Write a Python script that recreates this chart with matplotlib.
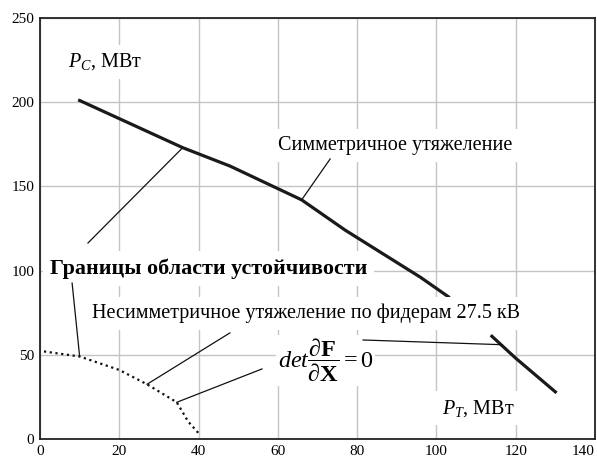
import numpy as np
import matplotlib.pyplot as plt

plt.rcParams['font.family'] = ['Liberation Serif', 'DejaVu Serif']
plt.rcParams['mathtext.fontset'] = 'custom'
plt.rcParams['mathtext.rm'] = 'Liberation Serif'
plt.rcParams['mathtext.it'] = 'Liberation Serif:italic'
plt.rcParams['mathtext.bf'] = 'Liberation Serif:bold'

# symmetric loading boundary (P_T, P_C), NaN marks the hidden part under the label
sym_pt = [10, 36, 48, 66, 77, 96, 103, np.nan, 114, 120, 130]
sym_pc = [201, 173, 162, 142, 124, 96, 84.5, np.nan, 61, 48, 28]

# asymmetric loading along 27.5 kV feeders
asym_pt = [1, 10, 20, 27, 34.5, 37.4, 40.4]
asym_pc = [52, 49, 41, 32.5, 21.8, 10.3, 2.4]

x_ticks = [0, 20, 40, 60, 80, 100, 120, 140]
y_ticks = [0, 50, 100, 150, 200, 250]

# leader lines: (text end, point on the curve)
leaders = [
    ((73.2, 166.3), (66, 142)),
    ((12.1, 116.4), (36, 173)),
    ((8.1, 92.6), (10, 49)),
    ((47.9, 63), (27, 32.5)),
    ((56, 41.6), (34.5, 21.8)),
    ((81.5, 58.8), (116.5, 56)),
]

fig = plt.figure(figsize=(5.97, 4.61), dpi=100)
ax = fig.add_axes([0.067, 0.0477, 0.9296, 0.9133])

ax.plot(sym_pt, sym_pc, color='#1a1a1a', lw=2.3, zorder=3)
ax.plot(asym_pt, asym_pc, color='#111111', lw=1.6,
        linestyle=(0, (1, 1.6)), zorder=3)

for (x0, y0), (x1, y1) in leaders:
    ax.plot([x0, x1], [y0, y1], color='#111111', lw=0.9, zorder=6)

ax.set_xlim(0, 140)
ax.set_ylim(0, 250)
ax.set_xticks(x_ticks)
ax.set_yticks(y_ticks)
ax.tick_params(length=0, labelsize=11, pad=4)
ax.tick_params(axis='x', pad=4)
ax.get_xticklabels()[-1].set_horizontalalignment('right')
ax.grid(True, color='#c4c4c4', lw=1.0, zorder=0)
ax.set_axisbelow(True)
for s in ax.spines.values():
    s.set_linewidth(1.3)
    s.set_color('#222222')

box = dict(facecolor='white', edgecolor='none', pad=5)
fs = 14.5

ax.text(7.1, 221, r'$P_C$, МВт', fontsize=fs, va='baseline', bbox=box, zorder=5)
ax.text(60.0, 171.6, 'Симметричное утяжеление', fontsize=fs, va='baseline',
        bbox=box, zorder=5)
ax.text(2.5, 98, 'Границы области устойчивости', fontsize=15.8, fontweight='bold',
        va='baseline', bbox=box, zorder=5)
ax.text(13.1, 71.9, 'Несимметричное утяжеление по фидерам 27.5 кВ', fontsize=fs,
        va='baseline', bbox=box, zorder=5)
ax.text(60.0, 42, r'$det\dfrac{\partial\mathbf{F}}{\partial\mathbf{X}}=0$',
        fontsize=17.5, va='baseline', bbox=dict(facecolor='white', edgecolor='none', pad=1),
        zorder=5)
ax.text(101.3, 15.4, r'$P_T$, МВт', fontsize=fs, va='baseline', bbox=box, zorder=5)

fig.savefig('out.png', dpi=100)
